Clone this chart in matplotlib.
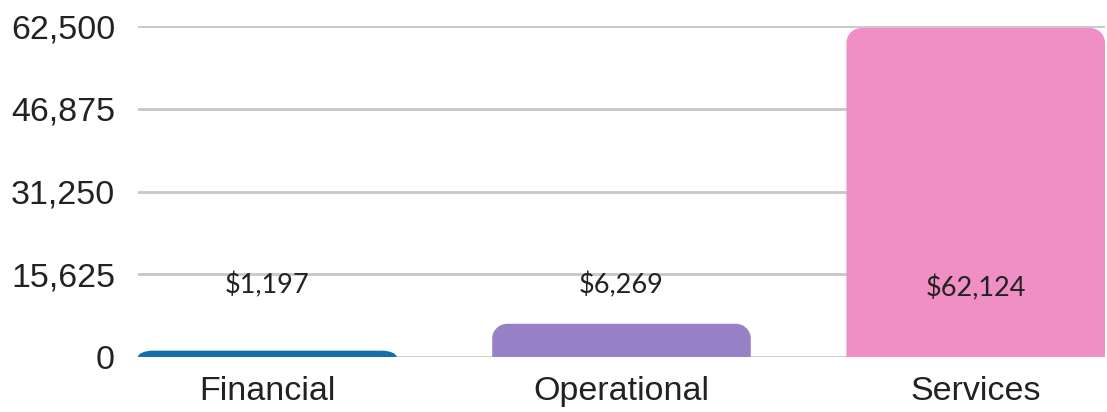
import matplotlib
matplotlib.use("Agg")
import matplotlib.pyplot as plt
from matplotlib.path import Path
from matplotlib.patches import PathPatch

categories = ["Financial", "Operational", "Services"]
values = [1197, 6269, 62124]
colors = ["#1170aa", "#9880c6", "#f08fc4"]
yticks = [0, 15625, 31250, 46875, 62500]
label_y = [13500, 13500, 13000]

fig = plt.figure(figsize=(11.07, 4.12), dpi=100)
ax = fig.add_axes([138 / 1107, 55 / 412, 967 / 1107, 331 / 412])

bars = ax.bar(range(len(categories)), values, width=0.73, color=colors)
ax.set_xlim(-0.365, 2.365)
ax.set_ylim(0, 62500)


def rounded_top(x0, w, h, rx, ry):
    # bar outline with rounded top corners (data units)
    ry = min(ry, h)
    k = 0.5523
    verts = [
        (x0, 0), (x0, h - ry),
        (x0, h - ry + k * ry), (x0 + rx - k * rx, h), (x0 + rx, h),
        (x0 + w - rx, h),
        (x0 + w - rx + k * rx, h), (x0 + w, h - ry + k * ry), (x0 + w, h - ry),
        (x0 + w, 0), (x0, 0),
    ]
    codes = [Path.MOVETO, Path.LINETO,
             Path.CURVE4, Path.CURVE4, Path.CURVE4,
             Path.LINETO,
             Path.CURVE4, Path.CURVE4, Path.CURVE4,
             Path.LINETO, Path.CLOSEPOLY]
    return Path(verts, codes)


# swap the square bars for rounded-top ones
for b, c in zip(bars, colors):
    b.set_visible(False)
    p = rounded_top(b.get_x(), b.get_width(), b.get_height(), 0.042, 2800)
    ax.add_patch(PathPatch(p, facecolor=c, edgecolor="none", zorder=3))

for i, v in enumerate(values):
    ax.text(i, label_y[i], f"${v:,}", ha="center", va="center",
            fontsize=19.5, family="Lato", color="#222222", zorder=4)

ax.set_yticks(yticks)
ax.set_yticklabels([f"{t:,}" for t in yticks])
ax.set_xticks(range(len(categories)))
ax.set_xticklabels(categories)
ax.tick_params(axis="both", length=0, labelsize=24.5, labelcolor="#222222")
ax.tick_params(axis="x", pad=14)
ax.tick_params(axis="y", pad=16.5)
for lab in ax.get_xticklabels() + ax.get_yticklabels():
    lab.set_family("Liberation Sans")

ax.grid(axis="y", color="#c8c8c8", linewidth=2)
ax.set_axisbelow(True)
for s in ax.spines.values():
    s.set_visible(False)

fig.savefig("out.png", dpi=100)
